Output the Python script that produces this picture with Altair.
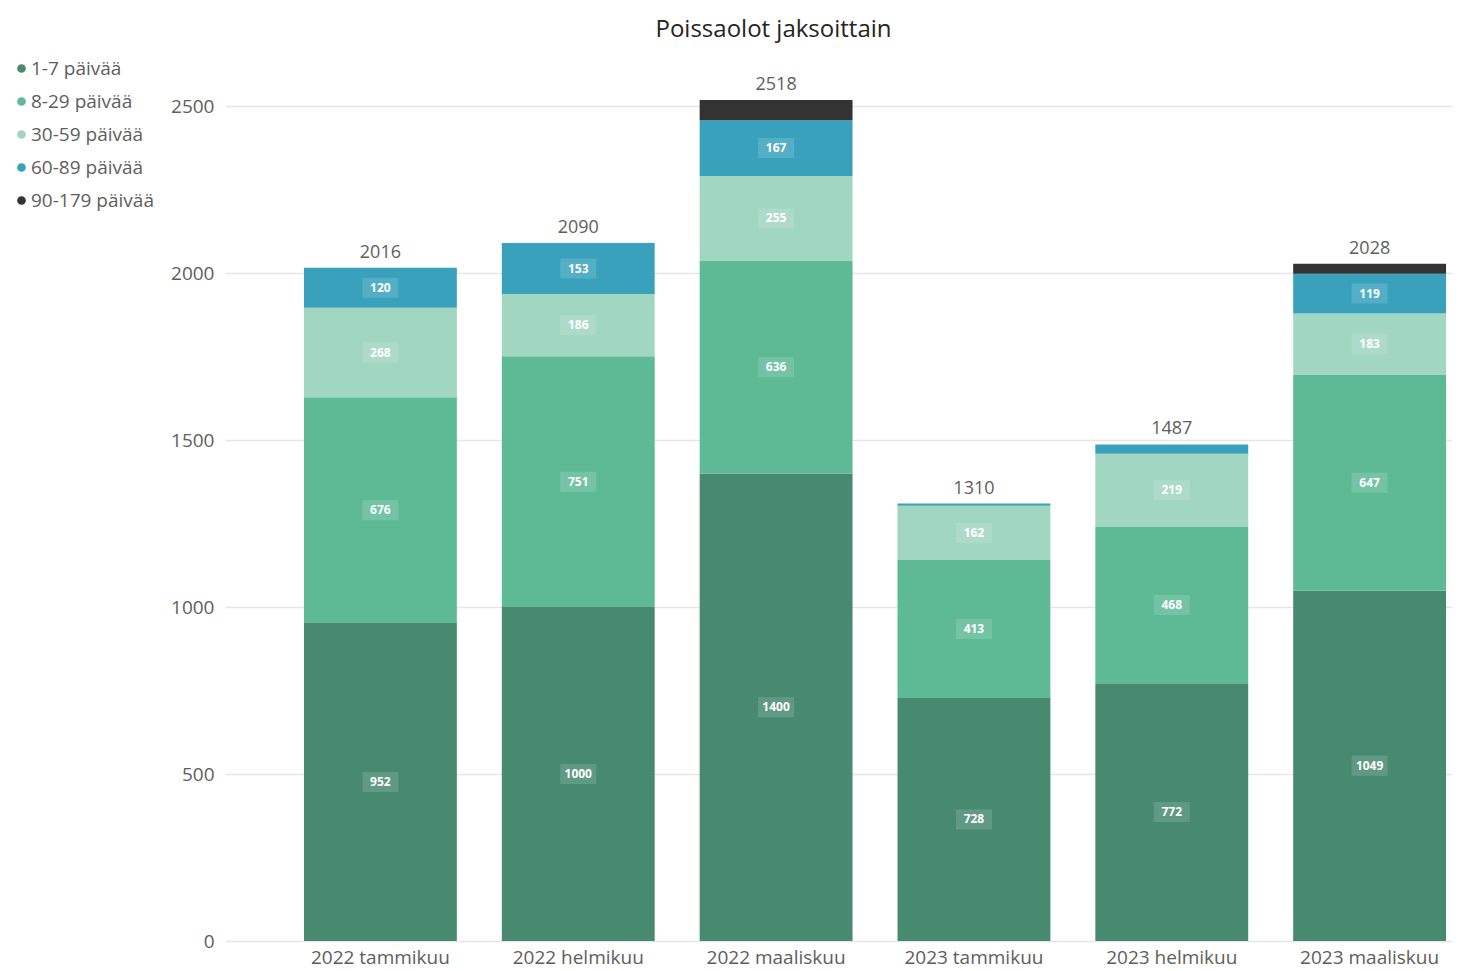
import altair as alt
import pandas as pd

months = ["2022 tammikuu", "2022 helmikuu", "2022 maaliskuu",
          "2023 tammikuu", "2023 helmikuu", "2023 maaliskuu"]
series = ["1-7 päivää", "8-29 päivää", "30-59 päivää", "60-89 päivää", "90-179 päivää"]
colors = ["#488a70", "#5eba95", "#a1d6c0", "#39a1bc", "#333333"]

v_1_7 = [952, 1000, 1400, 728, 772, 1049]
v_8_29 = [676, 751, 636, 413, 468, 647]
v_30_59 = [268, 186, 255, 162, 219, 183]
v_60_89 = [120, 153, 167, 7, 28, 119]
v_90_179 = [0, 0, 60, 0, 0, 30]

values = [v_1_7, v_8_29, v_30_59, v_60_89, v_90_179]
rows = []
for si, (s, vals) in enumerate(zip(series, values)):
    for m, v in zip(months, vals):
        rows.append({"month": m, "series": s, "idx": si, "value": v})
df = pd.DataFrame(rows)

FONT = "Open Sans"
GREY = "#605e5c"

x = alt.X("month:N", sort=months, title=None,
          scale=alt.Scale(paddingInner=0.2273, paddingOuter=0.2146, align=0.93),
          axis=alt.Axis(labelAngle=0, ticks=False, domain=False, labelPadding=7,
                        labelFontSize=19, labelColor=GREY, labelFont=FONT))

yscale = alt.Scale(domain=[0, 2668], nice=False, zero=True)

base = alt.Chart(df)

bars = base.mark_bar().encode(
    x=x,
    y=alt.Y("value:Q", stack="zero", scale=yscale, title=None,
            axis=alt.Axis(values=[0, 500, 1000, 1500, 2000, 2500], format="d",
                          ticks=False, domain=False,
                          labelPadding=11, labelFontSize=19, labelColor=GREY,
                          labelFont=FONT, gridColor="#e6e6e6", gridWidth=1.5)),
    color=alt.Color("series:N", sort=series,
                    scale=alt.Scale(domain=series, range=colors),
                    legend=alt.Legend(title=None, orient="none", legendX=-213, legendY=9,
                                      symbolType="circle", symbolSize=75,
                                      labelFontSize=19, labelFont=FONT, labelColor=GREY,
                                      rowPadding=13, labelOffset=0, symbolStrokeWidth=0)),
    order=alt.Order("idx:Q", sort="ascending"),
)

stacked = base.transform_stack(
    stack="value", groupby=["month"], sort=[alt.SortField("idx", order="ascending")],
    as_=["v0", "v1"]
).transform_calculate(
    mid="(datum.v0 + datum.v1) / 2"
).transform_filter("datum.value >= 100")

boxes = stacked.mark_point(
    shape="M-1.8,-1L1.8,-1L1.8,1L-1.8,1Z", size=400, filled=True,
    color="white", opacity=0.14
).encode(
    x=alt.X("month:N", sort=months),
    y=alt.Y("mid:Q", scale=yscale),
)

labels = stacked.mark_text(
    font=FONT, fontSize=12, fontWeight="bold", color="white"
).encode(
    x=alt.X("month:N", sort=months),
    y=alt.Y("mid:Q", scale=yscale),
    text=alt.Text("value:Q"),
)

totals = base.transform_aggregate(
    total="sum(value)", groupby=["month"]
).mark_text(
    font=FONT, fontSize=18, color=GREY, baseline="bottom", dy=-6
).encode(
    x=alt.X("month:N", sort=months),
    y=alt.Y("total:Q", scale=yscale),
    text=alt.Text("total:Q"),
)

chart = alt.layer(bars, boxes, labels, totals).properties(
    width=1227, height=891,
    padding={"left": 217, "top": 42, "right": 0, "bottom": 28},
    autosize=alt.AutoSizeParams(type="none"),
    background="white",
    title=alt.TitleParams("Poissaolot jaksoittain", fontSize=24, font=FONT,
                          fontWeight="normal", color="#252423", dx=-65, offset=8),
).configure_view(stroke=None)

chart.save("out.html", embed_options={"renderer": "svg", "actions": False})
